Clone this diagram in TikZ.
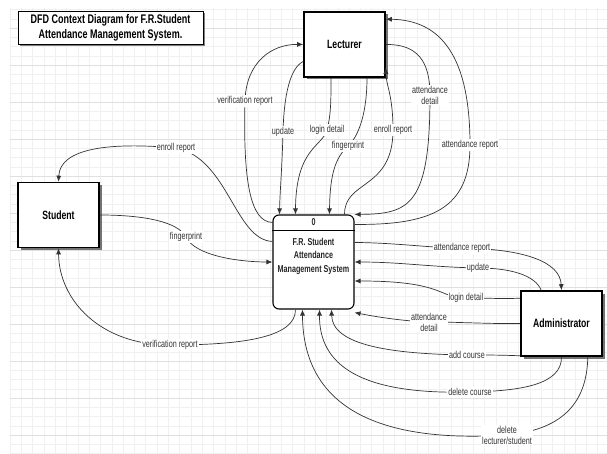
\documentclass[tikz,border=0pt]{standalone}
\usepackage{fontspec}
\setmainfont{Liberation Sans}[FakeStretch=0.72]
\usetikzlibrary{arrows.meta, shadows}

\tikzstyle{titlebox} = [rectangle,
minimum width=185pt,
minimum height=32pt,
align=center,
line width=1pt,
draw=black,
fill=white,
font=\fontsize{12.5}{15.5}\selectfont\bfseries,
drop shadow={shadow xshift=1.5pt, shadow yshift=-1.5pt, fill=black!50, opacity=1}]
\tikzstyle{entity} = [rectangle,
minimum width=81pt,
minimum height=65pt,
text centered,
line width=1.6pt,
draw=black,
fill=white,
font=\fontsize{12}{14}\selectfont\bfseries,
drop shadow={shadow xshift=2.5pt, shadow yshift=-2.5pt, fill=black!55, opacity=1}]
\tikzstyle{process} = [rectangle, rounded corners=6pt,
minimum width=81pt,
minimum height=94pt,
line width=1.1pt,
draw=black,
fill=white]
\tikzstyle{systext} = [align=center, text=black!85, font=\fontsize{10}{13.5}\selectfont\bfseries]
\tikzstyle{gridline} = [draw=black!6, line width=0.4pt]
\tikzstyle{majorline} = [draw=black!12, line width=0.5pt]
\tikzstyle{arrow} = [draw=black!80, line width=0.7pt, -{Latex[length=6pt,width=5pt]}]
\tikzstyle{flowlabel} = [fill=white, inner sep=1pt, align=center, text=black!80,
font=\fontsize{10}{11}\selectfont]

\begin{document}
\begin{tikzpicture}[x=1pt, y=-1pt]
	\useasboundingbox (0,0) rectangle (607,454);
	\fill[white] (0,0) rectangle (607,454);
	\foreach \gx in {10,21.3,...,607} \draw[gridline] (\gx,8) -- (\gx,454);
	\foreach \gy in {9.5,18.75,...,454} \draw[gridline] (10,\gy) -- (607,\gy);
	\foreach \gy in {28,65,...,454} \draw[majorline] (10,\gy) -- (607,\gy);

	\node (title) [titlebox] at (110.5,28) {DFD Context Diagram for F.R.Student\\Attendance Management System.};
	\node (lect) [entity] at (344.5,44.5) {Lecturer};
	\node (stud) [entity] at (58.5,215) {Student};
	\node (admin) [entity] at (561.5,323.5) {Administrator};
	\node (sys) [process] at (313.5,262) {};
	\node (sysid) [systext] at ([yshift=-8pt]sys.north) {0};
	\draw[line width=1.1pt] ([yshift=-16pt]sys.north west) -- ([yshift=-16pt]sys.north east);
	\node (sysname) [systext] at ([yshift=-41.5pt]sys.north) {F.R. Student\\Attendance\\Management System};

	% lecturer
	\draw[arrow] ([yshift=-8pt]sys.north west) .. controls (250,222) and (243,180) .. (245,101) node[flowlabel] {verification report} .. controls (246,62) and (272,44) .. (lect.west);
	\draw[arrow] ([yshift=-17pt]lect.west) .. controls (290,68) and (284,95) .. (283,132) node[flowlabel] {update} .. controls (282,170) and (280,190) .. ([xshift=7pt]sys.north west);
	\draw[arrow] ([xshift=-13.5pt]lect.south) .. controls (331,100) and (331,115) .. (327,130) node[flowlabel] {login detail} .. controls (322,147) and (296,148) .. ([xshift=23pt]sys.north west);
	\draw[arrow] ([xshift=22.5pt]lect.south) .. controls (367,110) and (360,135) .. (348,146) node[flowlabel] {fingerprint} .. controls (335,158) and (330,175) .. ([xshift=57pt]sys.north west);
	\draw[arrow] ([xshift=-10pt]sys.north east) .. controls (344,180) and (393,190) .. (393,130) node[flowlabel] {enroll report} .. controls (393,95) and (386,85) .. ([yshift=10pt]lect.south east);
	\draw[arrow] (lect.east) .. controls (418,44) and (430,62) .. (430,95) node[flowlabel] {attendance\\detail} .. controls (430,205) and (410,214) .. (sys.north east);
	\draw[arrow] ([yshift=-10pt]sys.north east) .. controls (430,225) and (470,210) .. (470,145) node[flowlabel] {attendance report} .. controls (470,55) and (440,20) .. ([yshift=-8pt]lect.north east);

	% student
	\draw[arrow] ([yshift=-27pt]sys.north west) .. controls (235,240) and (228,158) .. (176,148) node[flowlabel] {enroll report} .. controls (110,142) and (60,148) .. (stud.north);
	\draw[arrow] (stud.east) .. controls (145,215) and (178,222) .. (186,237) node[flowlabel] {fingerprint} .. controls (195,256) and (240,262) .. (sys.west);
	\draw[arrow] ([xshift=23pt]sys.south west) .. controls (296,338) and (240,345) .. (170,345) node[flowlabel] {verification report} .. controls (100,345) and (59,300) .. (stud.south);

	% administrator
	\draw[arrow] ([yshift=-28pt]sys.north east) .. controls (400,243) and (430,248) .. (462,248) node[flowlabel] {attendance report} .. controls (525,249) and (560,262) .. (admin.north);
	\draw[arrow] ([xshift=21pt]admin.north west) .. controls (535,275) and (510,268) .. (478,268) node[flowlabel] {update} .. controls (430,267) and (400,262) .. (sys.east);
	\draw[arrow] ([yshift=-8pt]admin.north west) .. controls (500,299) and (490,298) .. (466,298) node[flowlabel] {login detail} .. controls (438,298) and (445,281) .. ([yshift=-19pt]sys.east);
	\draw[arrow] (admin.west) .. controls (490,324) and (460,322) .. (429,322) node[flowlabel] {attendance\\detail} .. controls (400,321) and (372,316) .. ([yshift=-3pt]sys.south east);
	\draw[arrow] ([yshift=1pt]admin.south west) .. controls (500,355) and (490,355) .. (467,355) node[flowlabel] {add course} .. controls (390,354) and (332,345) .. ([xshift=-23pt]sys.south east);
	\draw[arrow] (admin.south) .. controls (562,385) and (520,391) .. (470,392) node[flowlabel] {delete course} .. controls (360,395) and (319,365) .. ([xshift=-35pt]sys.south east);
	\draw[arrow] ([xshift=-15pt]admin.south east) .. controls (587,405) and (560,430) .. (507,435) node[flowlabel] {delete\\lecturer/student} .. controls (400,442) and (303,420) .. ([xshift=30pt]sys.south west);
\end{tikzpicture}
\end{document}
